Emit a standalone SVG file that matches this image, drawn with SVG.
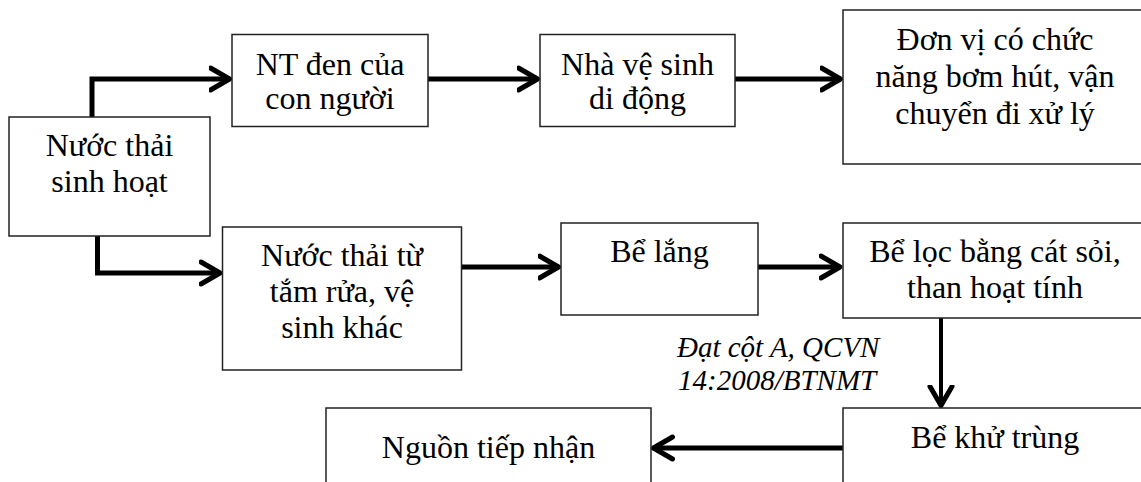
<svg xmlns="http://www.w3.org/2000/svg" width="1141" height="482" viewBox="0 0 1141 482">
<style>
.box{fill:#fff;stroke:#222;stroke-width:1.5}
.t{font-family:"Liberation Serif","Times New Roman",serif;font-size:32px;fill:#000;text-anchor:middle}
.it{font-family:"Liberation Serif","Times New Roman",serif;font-size:29px;font-style:italic;fill:#000}
.c{fill:none;stroke:#000;stroke-width:5;stroke-linejoin:miter}
</style>
<defs>
<marker id="arr" viewBox="0 0 24 28" refX="21" refY="14" markerWidth="24" markerHeight="28" orient="auto" markerUnits="userSpaceOnUse">
<path d="M2,3 L21,14 L2,25" fill="none" stroke="#000" stroke-width="5" stroke-linecap="round" stroke-linejoin="round"/>
</marker>
</defs>
<rect width="1141" height="482" fill="#fff"/>
<g id="connectors">
<path class="c" d="M92,117 L92,79 L229.5,79" marker-end="url(#arr)"/>
<path class="c" d="M97.5,236 L97.5,273 L220,273" marker-end="url(#arr)"/>
<path class="c" d="M428,79 L537.5,79" marker-end="url(#arr)"/>
<path class="c" d="M735,79 L840.5,79" marker-end="url(#arr)"/>
<path class="c" d="M462,267 L558.5,267" marker-end="url(#arr)"/>
<path class="c" d="M758,267 L840,267" marker-end="url(#arr)"/>
<path class="c" style="stroke-width:4" d="M941,318 L941,405.5" marker-end="url(#arr)"/>
<path class="c" d="M843,448 L653.5,448" marker-end="url(#arr)"/>
<text class="it" x="677" y="357">Đạt cột A, QCVN</text>
<text class="it" x="678" y="390">14:2008/BTNMT</text>
</g>
<g id="n-nuocthai">
<rect class="box" x="9" y="117" width="201" height="119"/>
<text class="t" x="109.5" y="156">Nước thải</text>
<text class="t" x="109.5" y="192">sinh hoạt</text>
</g>
<g id="n-ntden">
<rect class="box" x="232" y="34.5" width="196" height="92"/>
<text class="t" x="330" y="75">NT đen của</text>
<text class="t" x="330" y="109">con người</text>
</g>
<g id="n-nhavesinh">
<rect class="box" x="540" y="34.5" width="195" height="92"/>
<text class="t" x="637.5" y="75">Nhà vệ sinh</text>
<text class="t" x="637.5" y="109">di động</text>
</g>
<g id="n-donvi">
<rect class="box" x="843" y="10" width="310" height="154"/>
<text class="t" x="995" y="50">Đơn vị có chức</text>
<text class="t" x="995" y="87">năng bơm hút, vận</text>
<text class="t" x="995" y="124">chuyển đi xử lý</text>
</g>
<g id="n-tamrua">
<rect class="box" x="222.5" y="227" width="239" height="143"/>
<text class="t" x="342" y="266">Nước thải từ</text>
<text class="t" x="342" y="302">tắm rửa, vệ</text>
<text class="t" x="342" y="338">sinh khác</text>
</g>
<g id="n-belang">
<rect class="box" x="561" y="223" width="197" height="92"/>
<text class="t" x="659.5" y="262">Bể lắng</text>
</g>
<g id="n-beloc">
<rect class="box" x="843" y="223" width="310" height="95"/>
<text class="t" x="995" y="262">Bể lọc bằng cát sỏi,</text>
<text class="t" x="995" y="298">than hoạt tính</text>
</g>
<g id="n-bekhutrung">
<rect class="box" x="843" y="408" width="310" height="90"/>
<text class="t" x="995" y="448">Bể khử trùng</text>
</g>
<g id="n-nguon">
<rect class="box" x="326" y="408" width="325" height="90"/>
<text class="t" x="488.5" y="458">Nguồn tiếp nhận</text>
</g>
</svg>
